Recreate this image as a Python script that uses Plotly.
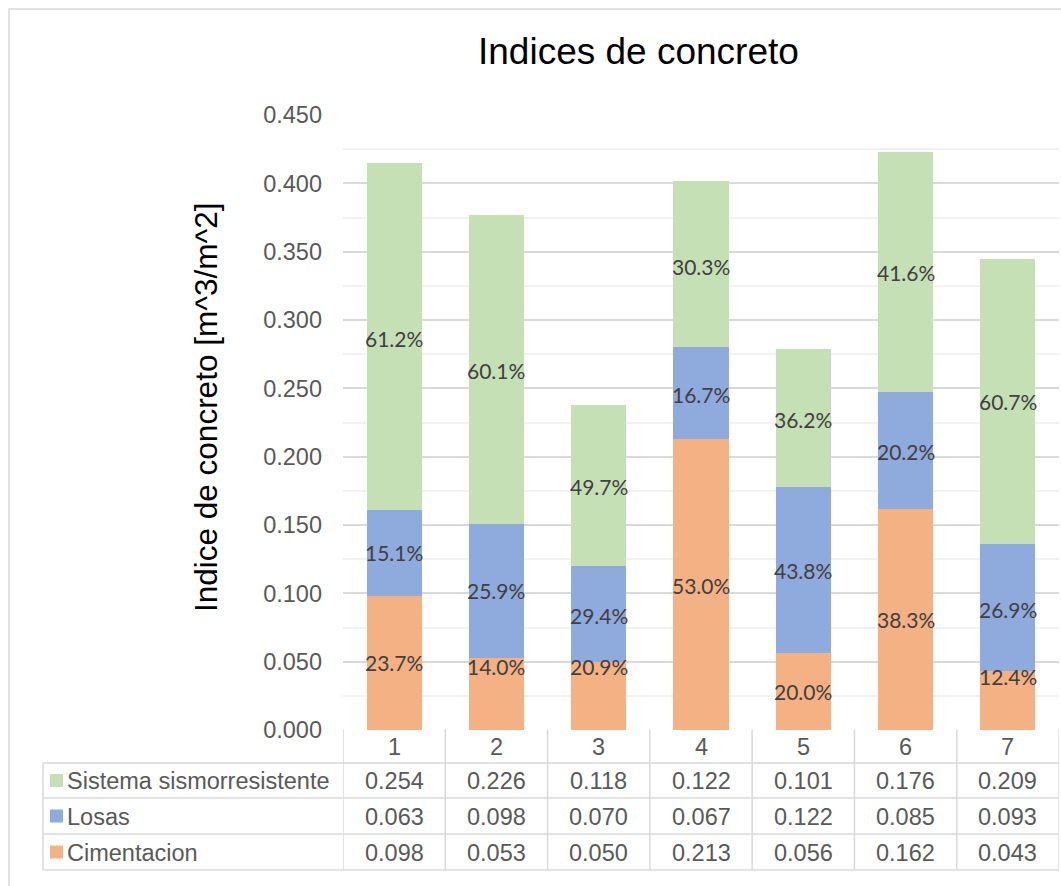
import plotly.graph_objects as go

categories = ["1", "2", "3", "4", "5", "6", "7"]
series_names = ["Cimentacion", "Losas", "Sistema sismorresistente"]
cimentacion = [0.098, 0.053, 0.050, 0.213, 0.056, 0.162, 0.043]
losas = [0.063, 0.098, 0.070, 0.067, 0.122, 0.085, 0.093]
sistema = [0.254, 0.226, 0.118, 0.122, 0.101, 0.176, 0.209]

pct_cimentacion = ["23.7%", "14.0%", "20.9%", "53.0%", "20.0%", "38.3%", "12.4%"]
pct_losas = ["15.1%", "25.9%", "29.4%", "16.7%", "43.8%", "20.2%", "26.9%"]
pct_sistema = ["61.2%", "60.1%", "49.7%", "30.3%", "36.2%", "41.6%", "60.7%"]

# label anchor values (data units)
lab_y_cimentacion = [0.0496, 0.0466, 0.0466, 0.1059, 0.0283, 0.0810, 0.0393]
lab_y_losas = [0.1301, 0.1023, 0.0840, 0.2458, 0.1169, 0.2040, 0.0884]
lab_y_sistema = [0.2868, 0.2633, 0.1784, 0.3395, 0.2275, 0.3351, 0.2406]

colors = {"Cimentacion": "#F4B183", "Losas": "#8FAADC", "Sistema sismorresistente": "#C5E0B4"}

W, H = 1061, 886
L, R, T, B = 343, 1059, 115, 730
PW, PH = R - L, B - T


def px(xpix):
    return (xpix - L) / PW


def py(ypix):
    return (B - ypix) / PH


TICK_FONT = "Liberation Sans, Arial, sans-serif"
GRID = "#D9D9D9"
TXT = "#595959"

xpos = list(range(len(categories)))

fig = go.Figure()
for name, vals in [("Cimentacion", cimentacion), ("Losas", losas), ("Sistema sismorresistente", sistema)]:
    fig.add_trace(go.Bar(x=xpos, y=vals, name=name, marker=dict(color=colors[name], line=dict(width=0)),
                         showlegend=False, hoverinfo="y+name"))

annotations = []
for pcts, ys in [(pct_cimentacion, lab_y_cimentacion), (pct_losas, lab_y_losas), (pct_sistema, lab_y_sistema)]:
    for xi, t, yv in zip(xpos, pcts, ys):
        annotations.append(dict(x=xi, y=yv, xref="x", yref="y", text=t, showarrow=False,
                                font=dict(family="Lato, sans-serif", size=21, color="#404040"),
                                xanchor="center", yanchor="middle"))

# Title
annotations.append(dict(x=px(638), y=py(52), xref="paper", yref="paper", text="Indices de concreto",
                        showarrow=False, font=dict(family=TICK_FONT, size=37, color="#000000"),
                        xanchor="center", yanchor="middle"))
# Y axis title
annotations.append(dict(x=px(206), y=py(407), xref="paper", yref="paper", text="Indice de concreto [m^3/m^2]",
                        showarrow=False, textangle=-90, font=dict(family=TICK_FONT, size=31.5, color="#000000"),
                        xanchor="center", yanchor="middle"))

shapes = []
# outer chart border
shapes.append(dict(type="rect", xref="paper", yref="paper", x0=px(9), x1=px(1075), y0=py(9), y1=py(900),
                   line=dict(color="#D9D9D9", width=1.5), layer="below"))

# table geometry (pixels)
header_top, row_lines = 729.5, [763, 798, 834, 870]
legend_left = 43
line_style = dict(color=GRID, width=1.5)
for yl in row_lines:
    shapes.append(dict(type="line", xref="paper", yref="paper", x0=px(legend_left), x1=px(R),
                       y0=py(yl), y1=py(yl), line=line_style))
shapes.append(dict(type="line", xref="paper", yref="paper", x0=px(legend_left), x1=px(legend_left),
                   y0=py(row_lines[0]), y1=py(row_lines[-1]), line=line_style))
for i in range(len(categories) + 1):
    shapes.append(dict(type="line", xref="x", yref="paper", x0=i - 0.5, x1=i - 0.5,
                       y0=py(header_top), y1=py(row_lines[-1]), line=line_style))

row_centers = [(row_lines[0] + row_lines[1]) / 2, (row_lines[1] + row_lines[2]) / 2, (row_lines[2] + row_lines[3]) / 2]
header_center = (header_top + row_lines[0]) / 2 + 0.5

cell_font = dict(family=TICK_FONT, size=23.5, color=TXT)
for xi, c in zip(xpos, categories):
    annotations.append(dict(x=xi, y=py(header_center), xref="x", yref="paper", text=c, showarrow=False,
                            font=cell_font, xanchor="center", yanchor="middle"))

table_rows = [("Sistema sismorresistente", sistema), ("Losas", losas), ("Cimentacion", cimentacion)]
for (name, vals), yc in zip(table_rows, row_centers):
    shapes.append(dict(type="rect", xref="paper", yref="paper", x0=px(50), x1=px(63),
                       y0=py(yc - 6.5), y1=py(yc + 6.5), fillcolor=colors[name], line=dict(width=0)))
    annotations.append(dict(x=px(65), y=py(yc + 0.5), xref="paper", yref="paper", text=name, showarrow=False,
                            font=cell_font, xanchor="left", yanchor="middle"))
    for xi, v in zip(xpos, vals):
        annotations.append(dict(x=xi, y=py(yc + 0.5), xref="x", yref="paper", text=f"{v:.3f}", showarrow=False,
                                font=cell_font, xanchor="center", yanchor="middle"))

fig.update_layout(
    width=W, height=H,
    margin=dict(l=L, r=W - R, t=T, b=H - B, pad=0),
    barmode="stack", bargap=0.46,
    plot_bgcolor="white", paper_bgcolor="white",
    annotations=annotations, shapes=shapes,
    showlegend=False,
)
fig.update_xaxes(type="linear", range=[-0.5, len(categories) - 0.5], showticklabels=False, ticks="",
                 showgrid=False, zeroline=False, showline=False)
fig.update_yaxes(range=[0, 0.45], dtick=0.05, tick0=0, tickformat=".3f", showgrid=True, gridcolor=GRID,
                 gridwidth=1.5, zeroline=False, showline=False, ticks="", ticklabelstandoff=20,
                 tickfont=dict(family=TICK_FONT, size=23.5, color=TXT),
                 minor=dict(dtick=0.025, tick0=0, showgrid=True, gridcolor="#F2F2F2", gridwidth=1.5))

fig.write_html("out.html")
